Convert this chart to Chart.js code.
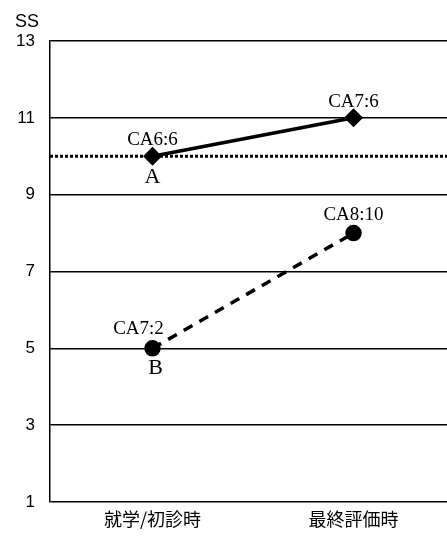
<!DOCTYPE html>
<html lang="ja">
<head>
    <meta charset="UTF-8">
    <title>SS</title>
    <script src="https://cdn.jsdelivr.net/npm/chart.js@4.4.1/dist/chart.umd.min.js"></script>
    <style>
        html, body { margin: 0; padding: 0; background: #fff; }
        .wrap { width: 447px; height: 538px; position: relative; }
    </style>
</head>
<body>
    <div class="wrap"><canvas id="chart"></canvas></div>
    <script>
        // categories on the x axis (placed at x = 1 and x = 3)
        const categories = ['就学/初診時', '最終評価時'];
        const categoryPos = [1, 3];
        // SS values
        const caseA = [10, 11];
        const caseB = [5, 8];
        const labelsA = ['CA6:6', 'CA7:6'];
        const labelsB = ['CA7:2', 'CA8:10'];
        const refLine = 10;
        const yTicks = [1, 3, 5, 7, 9, 11, 13];

        const toPoints = (vals) => vals.map((v, i) => ({ x: categoryPos[i], y: v }));
        const narrow = '"Liberation Sans Narrow", "Liberation Sans", Arial, sans-serif';

        // text next to the points, and the "SS" axis label
        const notes = {
            id: 'notes',
            afterDatasetsDraw(chart) {
                const ctx = chart.ctx;
                const x = chart.scales.x, y = chart.scales.y;
                const px = (i) => x.getPixelForValue(categoryPos[i]);
                ctx.save();
                ctx.fillStyle = '#000';
                ctx.textAlign = 'center';
                ctx.textBaseline = 'alphabetic';
                ctx.font = '19px "Liberation Serif", serif';
                labelsA.forEach((t, i) => ctx.fillText(t, px(i), y.getPixelForValue(caseA[i]) - 11));
                ctx.fillText(labelsB[0], px(0) - 14, y.getPixelForValue(caseB[0]) - 14);
                ctx.fillText(labelsB[1], px(1), y.getPixelForValue(caseB[1]) - 13);
                ctx.font = '22px "Liberation Serif", serif';
                ctx.fillText('A', px(0), y.getPixelForValue(caseA[0]) + 27);
                ctx.fillText('B', px(0) + 3, y.getPixelForValue(caseB[0]) + 26);
                ctx.font = '18px ' + narrow;
                ctx.textAlign = 'left';
                ctx.fillText('SS', 15, 27);
                ctx.restore();
            }
        };

        new Chart(document.getElementById('chart'), {
            type: 'line',
            data: {
                datasets: [
                    {
                        data: [{ x: -0.02, y: refLine }, { x: 3.93, y: refLine }],
                        borderColor: '#000',
                        borderWidth: 3,
                        borderDash: [3, 2],
                        pointRadius: 0
                    },
                    {
                        data: toPoints(caseA),
                        borderColor: '#000',
                        backgroundColor: '#000',
                        borderWidth: 3.5,
                        pointStyle: 'rectRot',
                        pointRadius: 7
                    },
                    {
                        data: toPoints(caseB),
                        borderColor: '#000',
                        backgroundColor: '#000',
                        borderWidth: 3.5,
                        borderDash: [10, 8],
                        pointStyle: 'circle',
                        pointRadius: 6.5
                    }
                ]
            },
            options: {
                responsive: true,
                maintainAspectRatio: false,
                animation: false,
                layout: { autoPadding: false, padding: { top: 41, right: 0, left: 0, bottom: 0 } },
                plugins: { legend: { display: false }, tooltip: { enabled: false } },
                scales: {
                    x: {
                        type: 'linear',
                        min: -0.02,
                        max: 3.93,
                        afterBuildTicks: (s) => { s.ticks = categoryPos.map(v => ({ value: v })); },
                        afterFit: (s) => { s.height = 36; s.paddingLeft = 0; s.paddingRight = 0; },
                        ticks: {
                            color: '#000',
                            padding: -2,
                            font: { family: '"Noto Sans CJK JP", sans-serif', size: 18 },
                            callback: (v) => categories[categoryPos.indexOf(v)]
                        },
                        grid: { display: false },
                        border: { display: false }
                    },
                    y: {
                        min: 1,
                        max: 13,
                        afterBuildTicks: (s) => { s.ticks = yTicks.map(v => ({ value: v })); },
                        afterFit: (s) => { s.width = 50; },
                        ticks: {
                            color: '#000',
                            padding: 15,
                            font: { family: narrow, size: 17 }
                        },
                        grid: { color: '#000', lineWidth: 1.5, drawTicks: false },
                        border: { color: '#000', width: 1.5 }
                    }
                }
            },
            plugins: [notes]
        });
    </script>
</body>
</html>
